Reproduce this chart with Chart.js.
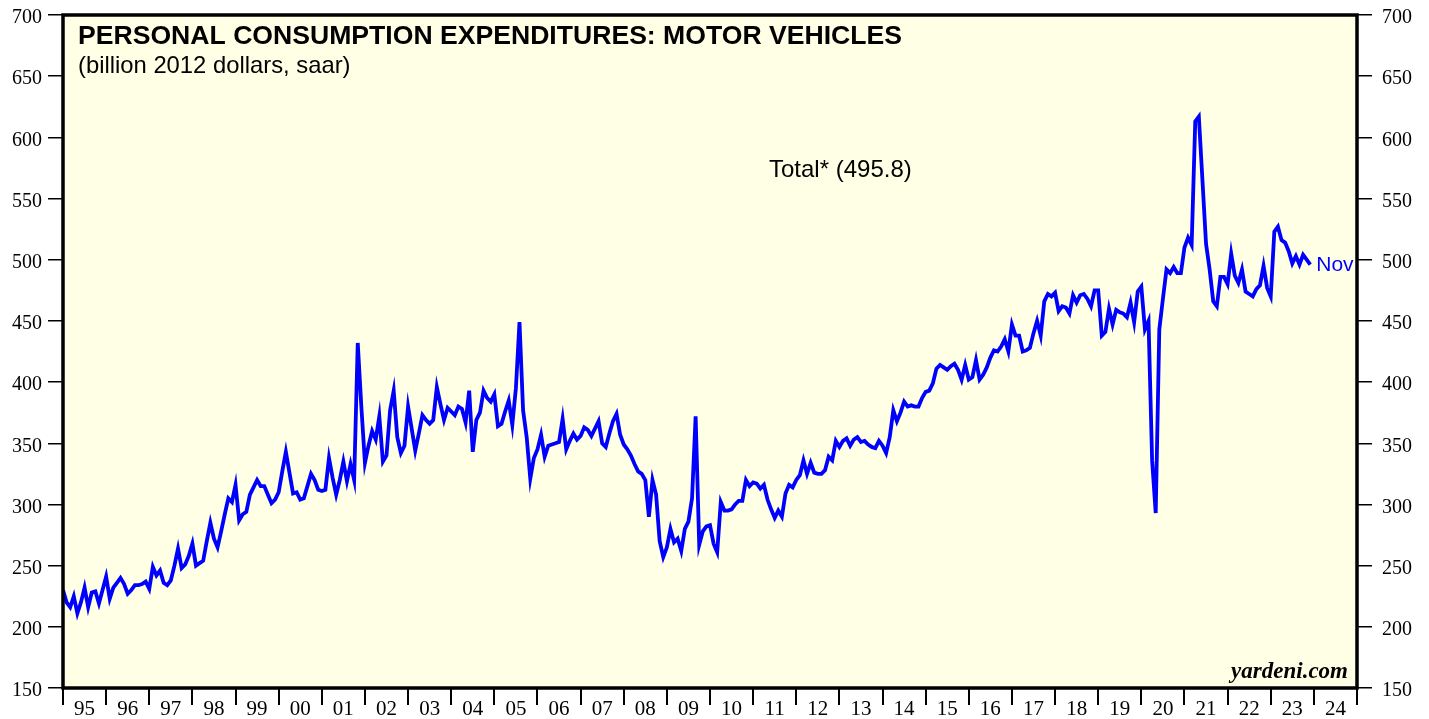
<!DOCTYPE html>
<html>
<head>
<meta charset="utf-8">
<script src="https://cdn.jsdelivr.net/npm/chart.js@4.4.0/dist/chart.umd.min.js"></script>
<style>
  html, body { margin: 0; padding: 0; background: #ffffff; }
  #chart-wrap { width: 1429px; height: 719px; }
</style>
</head>
<body>
<div id="chart-wrap"><canvas id="pce-motor-vehicles" width="1429" height="719"></canvas></div>
<script>
// year bands on the x axis (one per 12 months, starting Jan 1995)
const yearLabels = ['95', '96', '97', '98', '99', '00', '01', '02', '03', '04',
                    '05', '06', '07', '08', '09', '10', '11', '12', '13', '14',
                    '15', '16', '17', '18', '19', '20', '21', '22', '23', '24'];
const yTicks = [150, 200, 250, 300, 350, 400, 450, 500, 550, 600, 650, 700];

// monthly values, billion 2012 dollars (saar), one row per year
const motorVehicles = [
    230, 220, 216, 225, 211, 220, 232, 216, 228, 229, 219, 230,
    241, 223, 232, 236, 240, 235, 227, 230, 234, 234, 235, 237,
    231, 249, 242, 246, 236, 234, 238, 250, 264, 248, 251, 258,
    268, 250, 252, 254, 270, 285, 272, 265, 278, 292, 305, 302,
    316, 287, 292, 294, 308, 314, 320, 315, 315, 308, 301, 304,
    310, 327, 343, 326, 309, 310, 304, 305, 315, 325, 320, 312,
    311, 312, 338, 322, 308, 320, 335, 319, 333, 320, 432, 380,
    334, 348, 360, 353, 372, 335, 340, 377, 393, 355, 342, 348,
    380, 362, 344, 358, 373, 369, 366, 369, 396, 382, 369, 379,
    376, 373, 380, 378, 367, 393, 343, 369, 375, 393, 387, 384,
    390, 364, 366, 376, 385, 365, 395, 449, 377, 355, 321, 338,
    345, 357, 339, 348, 349, 350, 351, 370, 345, 352, 358, 353,
    356, 363, 361, 356, 362, 368, 350, 347, 358, 368, 374, 357,
    349, 345, 340, 333, 327, 325, 320, 290, 320, 308, 270, 257,
    265, 280, 269, 272, 262, 280, 286, 305, 372, 267, 278, 282,
    283, 268, 261, 302, 295, 295, 296, 300, 303, 303, 320, 315,
    318, 317, 313, 316, 304, 296, 289, 295, 290, 309, 316, 314,
    320, 324, 336, 325, 334, 326, 325, 325, 328, 339, 336, 352,
    347, 352, 354, 348, 353, 355, 351, 352, 349, 347, 346, 352,
    348, 342, 355, 377, 368, 375, 384, 380, 381, 380, 380, 387,
    392, 393, 399, 411, 414, 412, 410, 413, 415, 410, 402, 414,
    402, 404, 418, 402, 406, 412, 420, 426, 425, 429, 435, 425,
    447, 438, 438, 425, 426, 428, 440, 450, 438, 466, 472, 470,
    473, 458, 462, 461, 456, 471, 465, 471, 472, 468, 462, 475,
    475, 438, 441, 460, 447, 459, 457, 456, 453, 465, 449, 474,
    478, 443, 450, 336, 293, 443, 468, 492, 489, 494, 489, 489,
    510, 518, 512, 613, 617, 565, 513, 492, 466, 462, 486, 486,
    480, 505, 487, 481, 492, 474, 472, 470, 476, 479, 495, 477,
    470, 523, 527, 516, 514, 507, 497, 503, 496, 504, 500, 496
];

const titleText = 'PERSONAL CONSUMPTION EXPENDITURES: MOTOR VEHICLES';
const subtitleText = '(billion 2012 dollars, saar)';
const seriesLabel = 'Total* (495.8)';
const lastMonthLabel = 'Nov';
const sourceText = 'yardeni.com';

const monthsShown = yearLabels.length * 12;

// background, frame and the texts inside the plot
const decorPlugin = {
    id: 'decor',
    beforeDraw(chart) {
        const { ctx, chartArea } = chart;
        ctx.save();
        ctx.fillStyle = '#ffffe6';
        ctx.fillRect(chartArea.left, chartArea.top, chartArea.right - chartArea.left, chartArea.bottom - chartArea.top);
        ctx.restore();
    },
    afterDraw(chart) {
        const { ctx, chartArea } = chart;
        const xScale = chart.scales.x;
        const yScale = chart.scales.y;
        ctx.save();

        // frame
        ctx.strokeStyle = '#000';
        ctx.lineWidth = 3.5;
        ctx.strokeRect(chartArea.left, chartArea.top, chartArea.right - chartArea.left, chartArea.bottom - chartArea.top);

        // title block
        ctx.fillStyle = '#000';
        ctx.textAlign = 'left';
        ctx.textBaseline = 'alphabetic';
        ctx.font = 'bold 26.6px "Liberation Sans", Arial, sans-serif';
        ctx.fillText(titleText, chartArea.left + 15, 44);
        ctx.font = '23.8px "Liberation Sans", Arial, sans-serif';
        ctx.fillText(subtitleText, chartArea.left + 15, 73);

        // series label
        ctx.font = '24px "Liberation Sans", Arial, sans-serif';
        ctx.fillText(seriesLabel, 769, 177);

        // last month tag next to the final point
        const lastIdx = motorVehicles.length - 1;
        const px = xScale.getPixelForValue(lastIdx);
        const py = yScale.getPixelForValue(motorVehicles[lastIdx]);
        ctx.fillStyle = '#0000ff';
        ctx.font = '21px "Liberation Sans", Arial, sans-serif';
        ctx.textBaseline = 'middle';
        ctx.fillText(lastMonthLabel, px + 6, py + 1);

        // source
        ctx.fillStyle = '#000';
        ctx.textAlign = 'right';
        ctx.textBaseline = 'alphabetic';
        ctx.font = 'italic bold 23px "Liberation Serif", "Times New Roman", serif';
        ctx.fillText(sourceText, chartArea.right - 9, chartArea.bottom - 10);

        ctx.restore();
    }
};

// fixed axis sizes so the plot box sits where the reference has it
function fixWidth(width) {
    return function(scale) {
        scale.width = width;
        scale.paddingTop = 0;
        scale.paddingBottom = 0;
    };
}

document.addEventListener('DOMContentLoaded', function() {
    const canvas = document.getElementById('pce-motor-vehicles');
    if (!canvas) return;

    const tickFont = { family: '"Liberation Serif", "Times New Roman", serif', size: 20 };
    const xTickFont = { family: '"Liberation Serif", "Times New Roman", serif', size: 21 };

    new Chart(canvas, {
        type: 'line',
        data: {
            datasets: [{
                label: seriesLabel,
                data: motorVehicles.map((v, i) => ({ x: i, y: v })),
                borderColor: '#0000ff',
                borderWidth: 3.8,
                pointRadius: 0,
                tension: 0,
                fill: false
            }]
        },
        options: {
            responsive: false,
            animation: false,
            events: [],
            layout: { padding: { top: 15, left: 0, right: 0, bottom: 0 } },
            plugins: {
                legend: { display: false },
                tooltip: { enabled: false }
            },
            scales: {
                x: {
                    type: 'linear',
                    position: 'bottom',
                    min: 0,
                    max: monthsShown,
                    afterBuildTicks: function(scale) {
                        const ticks = [];
                        for (let m = 0; m <= monthsShown; m += 6) ticks.push({ value: m });
                        scale.ticks = ticks;
                    },
                    afterFit: function(scale) {
                        scale.height = 31;
                        scale.paddingLeft = 0;
                        scale.paddingRight = 0;
                    },
                    border: { display: false },
                    grid: {
                        drawOnChartArea: false,
                        drawTicks: true,
                        tickLength: 17,
                        lineWidth: 2,
                        color: ctx => (ctx.tick && ctx.tick.value % 12 === 0) ? '#000' : 'rgba(0,0,0,0)'
                    },
                    ticks: {
                        autoSkip: false,
                        maxRotation: 0,
                        padding: -8,
                        color: '#000',
                        font: xTickFont,
                        callback: value => value % 12 === 6 ? yearLabels[(value - 6) / 12] : ''
                    }
                },
                y: {
                    position: 'left',
                    min: 150,
                    max: 700,
                    afterBuildTicks: function(scale) { scale.ticks = yTicks.map(v => ({ value: v })); },
                    afterFit: fixWidth(63),
                    border: { display: false },
                    grid: { drawOnChartArea: false, drawTicks: true, tickLength: 15, lineWidth: 1.5, color: '#000' },
                    ticks: { padding: 6, labelOffset: 3, color: '#000', font: tickFont }
                },
                y2: {
                    position: 'right',
                    min: 150,
                    max: 700,
                    afterBuildTicks: function(scale) { scale.ticks = yTicks.map(v => ({ value: v })); },
                    afterFit: fixWidth(72),
                    border: { display: false },
                    grid: { drawOnChartArea: false, drawTicks: true, tickLength: 15, lineWidth: 1.5, color: '#000' },
                    ticks: { padding: 10, labelOffset: 3, color: '#000', font: tickFont }
                }
            }
        },
        plugins: [decorPlugin]
    });
});
</script>
</body>
</html>
